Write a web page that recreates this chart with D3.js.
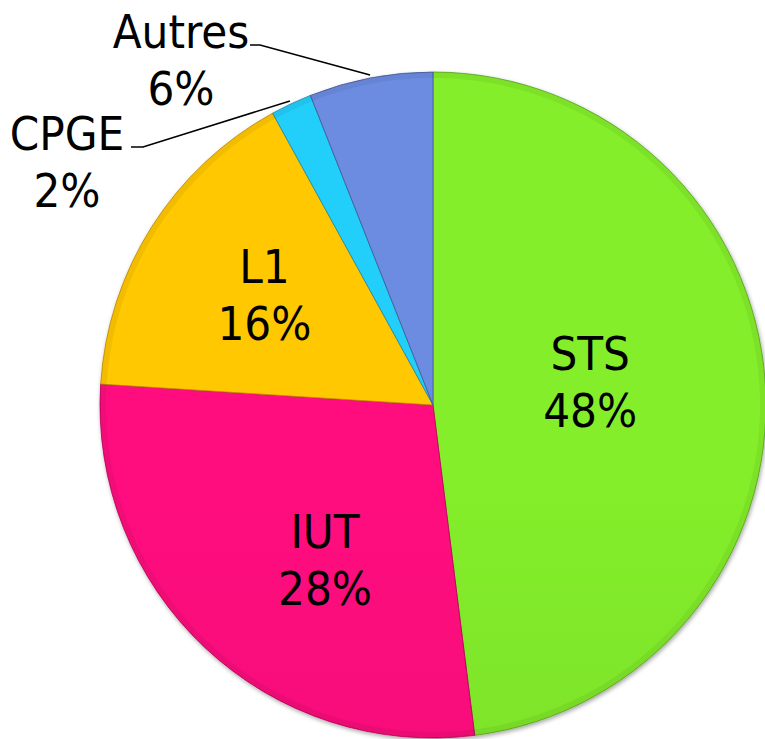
<!DOCTYPE html>
<html>
<head>
<meta charset="utf-8">
<script src="https://cdn.jsdelivr.net/npm/d3@7"></script>
<style>
  html, body { margin: 0; padding: 0; background: #fff; }
  svg text { font-family: "DejaVu Sans Condensed", "DejaVu Sans", sans-serif; font-stretch: condensed; fill: #000; }
</style>
</head>
<body>
<svg id="chart" width="765" height="739"></svg>
<script>
// Chart data
const categories = ["STS", "IUT", "L1", "CPGE", "Autres"];
const values = [48, 28, 16, 2, 6];
const topColors = ["#84ee2c", "#ff0a7e", "#ffc800", "#22cefa", "#6c8ce2"];
const bottomColors = ["#66c020", "#dc0068", "#e8a400", "#1aa4cc", "#5666ac"];

const width = 765;
const height = 739;
const cx = 433;
const cy = 405;
const radius = 333;

const svg = d3.select("#chart");
const defs = svg.append("defs");

// vertical gradient for each slice (lighter at the top)
categories.forEach((c, i) => {
  const g = defs.append("linearGradient")
    .attr("id", "grad" + i)
    .attr("gradientUnits", "userSpaceOnUse")
    .attr("x1", 0).attr("y1", cy - radius)
    .attr("x2", 0).attr("y2", cy + radius);
  g.append("stop").attr("offset", "0%").attr("stop-color", topColors[i]);
  g.append("stop").attr("offset", "45%").attr("stop-color", d3.interpolateRgb(topColors[i], bottomColors[i])(0.25));
  g.append("stop").attr("offset", "100%").attr("stop-color", bottomColors[i]);
});

// soft shadow under the pie
const shadow = defs.append("filter").attr("id", "shadow")
  .attr("x", "-10%").attr("y", "-10%").attr("width", "120%").attr("height", "120%");
shadow.append("feDropShadow")
  .attr("dx", 1).attr("dy", 2).attr("stdDeviation", 2)
  .attr("flood-color", "#000").attr("flood-opacity", 0.35);

const data = categories.map((c, i) => ({ name: c, value: values[i], index: i }));

const pie = d3.pie().value(d => d.value).sort(null);
const arcs = pie(data);

const arc = d3.arc().innerRadius(0).outerRadius(radius);
const rimArc = d3.arc().innerRadius(radius - 6).outerRadius(radius);

const g = svg.append("g").attr("transform", `translate(${cx},${cy})`);

g.append("g").attr("filter", "url(#shadow)")
  .selectAll("path")
  .data(arcs)
  .join("path")
  .attr("d", arc)
  .attr("fill", d => `url(#grad${d.data.index})`)
  .attr("stroke", d => d3.color(bottomColors[d.data.index]).darker(0.5))
  .attr("stroke-width", 0.8)
  .attr("stroke-linejoin", "round");

// slight darker rim, like the bevel in the original
g.append("g")
  .selectAll("path")
  .data(arcs)
  .join("path")
  .attr("d", rimArc)
  .attr("fill", "#000")
  .attr("opacity", 0.05);

// Labels: inside ones sit near the slice centroid, small ones go outside with a leader line
const fontSize = 47;
const lineGap = 57;
const insideOffsets = { STS: [-9, -25], IUT: [6, 22], L1: [-28, -33] };
// leader elbow and line end relative to pie centre, text centre x
const outsideLayout = {
  CPGE: { elbow: [-290, -258], end: [-302, -258], textX: -366 },
  Autres: { elbow: [-173, -360], end: [-183, -360], textX: -252 }
};

arcs.forEach(d => {
  const name = d.data.name;
  const pct = d.data.value + "%";
  if (insideOffsets[name]) {
    const [x0, y0] = arc.centroid(d);
    const [dx, dy] = insideOffsets[name];
    const t = g.append("text")
      .attr("text-anchor", "middle")
      .attr("font-size", fontSize);
    t.append("tspan").attr("x", x0 + dx).attr("y", y0 + dy).text(name);
    t.append("tspan").attr("x", x0 + dx).attr("y", y0 + dy + lineGap).text(pct);
  } else {
    const lay = outsideLayout[name];
    const mid = (d.startAngle + d.endAngle) / 2;
    const r0 = radius + 3;
    const p0 = [r0 * Math.sin(mid), -r0 * Math.cos(mid)];
    g.append("polyline")
      .attr("points", [p0, lay.elbow, lay.end].map(p => p.join(",")).join(" "))
      .attr("fill", "none")
      .attr("stroke", "#000")
      .attr("stroke-width", 1.6);
    const t = g.append("text")
      .attr("text-anchor", "middle")
      .attr("font-size", fontSize);
    t.append("tspan").attr("x", lay.textX).attr("y", lay.end[1] + 3).text(name);
    t.append("tspan").attr("x", lay.textX).attr("y", lay.end[1] + 3 + lineGap).text(pct);
  }
});
</script>
</body>
</html>
